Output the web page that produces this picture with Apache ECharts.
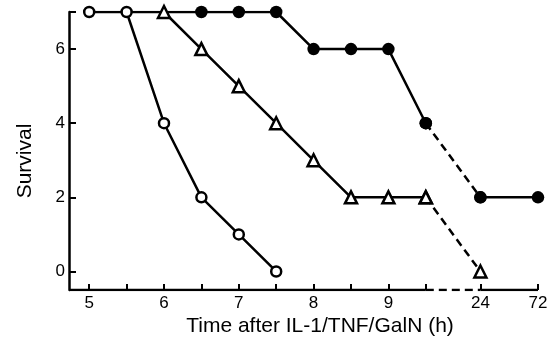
<!DOCTYPE html>
<html>
<head>
<meta charset="utf-8">
<script src="https://cdn.jsdelivr.net/npm/echarts@6/dist/echarts.min.js"></script>
<style>html,body{margin:0;padding:0;background:#fff;}#c{width:552px;height:338px;}</style>
</head>
<body>
<div id="c"></div>
<script>
// ---- data (hours after IL-1/TNF/GalN, number of surviving animals) ----
const openTimes   = [5, 5.5, 6, 6.5, 7, 7.5];
const openSurv    = [7, 7, 4, 2, 1, 0];
const triTimes    = [5.5, 6, 6.5, 7, 7.5, 8, 8.5, 9, 9.5, 24];
const triSurv     = [7, 7, 6, 5, 4, 3, 2, 2, 2, 0];
const filledTimes = [6, 6.5, 7, 7.5, 8, 8.5, 9, 9.5, 24, 72];
const filledSurv  = [7, 7, 7, 7, 6, 6, 6, 4, 2, 2];
const xTickHours  = [5, 5.5, 6, 6.5, 7, 7.5, 8, 8.5, 9, 9.5, 24, 72];
const xLabelHours = [5, 6, 7, 8, 9, 24, 72];
const xLabels     = ['5', '6', '7', '8', '9', '24', '72'];
const yTicks      = [0, 2, 4, 6, 7];
const yLabels     = [0, 2, 4, 6];

// broken time scale: linear up to 9.5 h, compressed after the break
const anchorHours = [9.5, 24, 72];
const anchorPos   = [9.5, 10.23, 11];
function pos(h) {
  if (h <= anchorHours[0]) return h;
  for (let i = 1; i < anchorHours.length; i++) {
    if (h <= anchorHours[i]) {
      const t = (h - anchorHours[i - 1]) / (anchorHours[i] - anchorHours[i - 1]);
      return anchorPos[i - 1] + t * (anchorPos[i] - anchorPos[i - 1]);
    }
  }
  return anchorPos[anchorPos.length - 1];
}
function hourLabel(p) {
  for (let i = 0; i < xLabelHours.length; i++) {
    if (Math.abs(pos(xLabelHours[i]) - p) < 1e-6) return xLabels[i];
  }
  return '';
}
function pts(times, vals, from, to, hideAt) {
  const out = [];
  for (let i = from; i <= to; i++) {
    const item = { value: [pos(times[i]), vals[i]] };
    if (hideAt && hideAt.indexOf(times[i]) >= 0) item.symbol = 'none';
    out.push(item);
  }
  return out;
}

const X_MIN = 4.73, X_MAX = 11, Y_MIN = -0.5, Y_MAX = 7;
const FONT = 'Liberation Sans, Arial, Helvetica, sans-serif';
const BLACK = '#000';
const LW = 2.5;

const openStyle   = { symbol: 'circle', symbolSize: 10, itemStyle: { color: '#fff', borderColor: BLACK, borderWidth: 2.5 } };
const triStyle    = { symbol: 'triangle', symbolSize: 12, itemStyle: { color: '#fff', borderColor: BLACK, borderWidth: 2.5 } };
const filledStyle = { symbol: 'circle', symbolSize: 12.5, itemStyle: { color: BLACK, borderWidth: 0 } };

function lineSeries(data, style, dashed, z) {
  return Object.assign({
    type: 'line', data: data, z: z, animation: false, silent: true,
    lineStyle: { color: BLACK, width: LW, type: dashed ? [8, 5] : 'solid' },
    showSymbol: true
  }, style);
}

const nT = triTimes.length, nF = filledTimes.length;
const series = [
  // broken x-axis line
  { type: 'line', data: [[X_MIN, Y_MIN], [pos(9.5), Y_MIN]], symbol: 'none', lineStyle: { color: BLACK, width: LW }, animation: false, silent: true, z: 1 },
  { type: 'line', data: [[pos(9.5), Y_MIN], [pos(24), Y_MIN]], symbol: 'none', lineStyle: { color: BLACK, width: LW, type: [8, 5] }, animation: false, silent: true, z: 1 },
  { type: 'line', data: [[pos(24), Y_MIN], [pos(72), Y_MIN]], symbol: 'none', lineStyle: { color: BLACK, width: LW }, animation: false, silent: true, z: 1 },
  // filled circles
  lineSeries(pts(filledTimes, filledSurv, 0, nF - 3, [6]), filledStyle, false, 2),
  lineSeries(pts(filledTimes, filledSurv, nF - 3, nF - 2), filledStyle, true, 2),
  lineSeries(pts(filledTimes, filledSurv, nF - 2, nF - 1), filledStyle, false, 2),
  // open triangles
  lineSeries(pts(triTimes, triSurv, 0, nT - 2, [5.5]), triStyle, false, 3),
  lineSeries(pts(triTimes, triSurv, nT - 2, nT - 1), triStyle, true, 3),
  // open circles
  lineSeries(pts(openTimes, openSurv, 0, openTimes.length - 1), openStyle, false, 4)
];

const chart = echarts.init(document.getElementById('c'), null, { renderer: 'canvas' });
chart.setOption({
  backgroundColor: '#fff',
  animation: false,
  grid: { left: 69, right: 14, top: 12, bottom: 48, containLabel: false },
  xAxis: {
    type: 'value', min: X_MIN, max: X_MAX, position: 'bottom',
    axisLine: { show: false, onZero: false },
    splitLine: { show: false },
    axisTick: { show: true, inside: true, length: 6, lineStyle: { color: BLACK, width: 2 },
                customValues: xTickHours.map(pos) },
    axisLabel: { show: true, margin: 5, color: BLACK, fontSize: 17, fontFamily: FONT,
                 customValues: xLabelHours.map(pos), formatter: hourLabel }
  },
  yAxis: {
    type: 'value', min: Y_MIN, max: Y_MAX,
    axisLine: { show: true, onZero: false, lineStyle: { color: BLACK, width: LW } },
    splitLine: { show: false },
    axisTick: { show: true, inside: true, length: 7, lineStyle: { color: BLACK, width: 2 },
                customValues: yTicks },
    axisLabel: { show: true, margin: 4, color: BLACK, fontSize: 17, fontFamily: FONT,
                 customValues: yLabels }
  },
  graphic: [
    { type: 'text', x: 25, y: 161, rotation: Math.PI / 2, silent: true,
      style: { text: 'Survival', fill: BLACK, font: '21px ' + FONT, align: 'center', verticalAlign: 'middle' } },
    { type: 'text', x: 320, y: 326, silent: true,
      style: { text: 'Time after IL-1/TNF/GalN (h)', fill: BLACK, font: '21px ' + FONT, align: 'center', verticalAlign: 'middle' } }
  ],
  series: series
});
</script>
</body>
</html>
